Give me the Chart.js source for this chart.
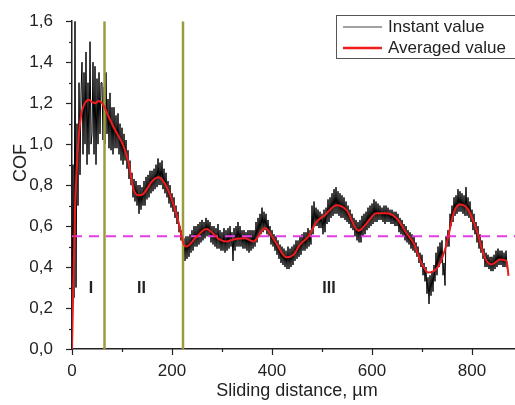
<!DOCTYPE html>
<html>
<head>
<meta charset="utf-8">
<title>COF vs sliding distance</title>
<script src="https://cdn.jsdelivr.net/npm/chart.js@4.4.1/dist/chart.umd.min.js"></script>
<style>
    html, body { margin: 0; padding: 0; background: #fff; }
    #wrap { width: 515px; height: 405px; }
</style>
</head>
<body>
<div id="wrap"><canvas id="cof-chart" width="515" height="405"></canvas></div>
<script>
// --- Data ---
const xTicks = [0, 200, 400, 600, 800];
const yTicks = [0, 0.2, 0.4, 0.6, 0.8, 1.0, 1.2, 1.4, 1.6];

// instant value, sampled every 2 um from 0 (one row = 20 um)
const instantStep = 2;
const instantValues = [
    0.05, 0.90, 0.25, 1.60, 0.30, 1.10, 0.70, 1.30, 0.85, 1.25,
    1.40, 0.95, 1.35, 1.00, 1.45, 0.90, 1.30, 0.95, 1.50, 1.00,
    1.05, 1.40, 0.95, 1.38, 0.90, 1.32, 1.00, 1.35, 1.05, 1.30,
    1.30, 1.02, 1.28, 1.00, 1.35, 1.05, 1.22, 0.98, 1.25, 0.97,
    1.18, 0.95, 1.18, 0.98, 1.14, 0.98, 1.15, 0.95, 1.10, 0.92,
    1.08, 0.90, 1.05, 0.92, 1.02, 0.88, 0.97, 0.83, 0.92, 0.80,
    0.86, 0.74, 0.83, 0.72, 0.82, 0.70, 0.80, 0.66, 0.80, 0.68,
    0.79, 0.70, 0.82, 0.70, 0.84, 0.73, 0.85, 0.74, 0.87, 0.76,
    0.87, 0.77, 0.88, 0.78, 0.90, 0.79, 0.93, 0.80, 0.91, 0.80,
    0.92, 0.78, 0.88, 0.76, 0.86, 0.74, 0.82, 0.71, 0.80, 0.69,
    0.76, 0.67, 0.74, 0.64, 0.70, 0.61, 0.67, 0.57, 0.60, 0.53,
    0.58, 0.47, 0.54, 0.43, 0.55, 0.44, 0.55, 0.45, 0.56, 0.47,
    0.58, 0.48, 0.60, 0.50, 0.60, 0.50, 0.61, 0.51, 0.62, 0.52,
    0.63, 0.53, 0.62, 0.54, 0.64, 0.55, 0.63, 0.55, 0.62, 0.52,
    0.60, 0.51, 0.60, 0.50, 0.59, 0.49, 0.61, 0.49, 0.58, 0.48,
    0.57, 0.48, 0.59, 0.47, 0.58, 0.48, 0.59, 0.49, 0.60, 0.50,
    0.57, 0.43, 0.59, 0.48, 0.60, 0.50, 0.62, 0.50, 0.60, 0.50,
    0.58, 0.49, 0.58, 0.49, 0.57, 0.48, 0.58, 0.47, 0.58, 0.48,
    0.58, 0.49, 0.58, 0.50, 0.62, 0.52, 0.64, 0.55, 0.66, 0.56,
    0.69, 0.57, 0.67, 0.58, 0.66, 0.56, 0.63, 0.55, 0.60, 0.51,
    0.58, 0.50, 0.56, 0.48, 0.55, 0.46, 0.53, 0.44, 0.51, 0.42,
    0.50, 0.41, 0.49, 0.40, 0.48, 0.39, 0.50, 0.39, 0.49, 0.40,
    0.50, 0.41, 0.51, 0.43, 0.53, 0.44, 0.53, 0.45, 0.55, 0.46,
    0.56, 0.48, 0.57, 0.48, 0.57, 0.49, 0.59, 0.50, 0.58, 0.51,
    0.70, 0.56, 0.72, 0.60, 0.69, 0.60, 0.68, 0.59, 0.67, 0.59,
    0.66, 0.56, 0.68, 0.57, 0.69, 0.61, 0.73, 0.62, 0.74, 0.64,
    0.76, 0.65, 0.78, 0.66, 0.79, 0.66, 0.77, 0.65, 0.76, 0.64,
    0.75, 0.64, 0.74, 0.63, 0.72, 0.62, 0.70, 0.61, 0.68, 0.59,
    0.66, 0.58, 0.64, 0.55, 0.63, 0.53, 0.62, 0.52, 0.63, 0.52,
    0.65, 0.55, 0.66, 0.56, 0.67, 0.58, 0.69, 0.59, 0.70, 0.60,
    0.71, 0.61, 0.73, 0.62, 0.72, 0.62, 0.71, 0.63, 0.70, 0.63,
    0.69, 0.62, 0.70, 0.61, 0.70, 0.62, 0.69, 0.62, 0.68, 0.61,
    0.68, 0.61, 0.67, 0.60, 0.67, 0.60, 0.66, 0.57, 0.64, 0.56,
    0.63, 0.55, 0.61, 0.53, 0.60, 0.52, 0.58, 0.51, 0.57, 0.49,
    0.56, 0.48, 0.55, 0.47, 0.52, 0.45, 0.50, 0.42, 0.47, 0.40,
    0.46, 0.36, 0.42, 0.33, 0.40, 0.27, 0.35, 0.22, 0.36, 0.26,
    0.38, 0.28, 0.41, 0.33, 0.47, 0.36, 0.50, 0.40, 0.52, 0.42,
    0.53, 0.36, 0.42, 0.31, 0.55, 0.50, 0.58, 0.50, 0.66, 0.60,
    0.70, 0.62, 0.74, 0.65, 0.75, 0.66, 0.78, 0.67, 0.77, 0.67,
    0.76, 0.66, 0.75, 0.65, 0.79, 0.65, 0.74, 0.64, 0.72, 0.62,
    0.68, 0.58, 0.66, 0.56, 0.62, 0.52, 0.60, 0.49, 0.56, 0.47,
    0.53, 0.44, 0.49, 0.40, 0.47, 0.40, 0.46, 0.39, 0.45, 0.38,
    0.45, 0.38, 0.46, 0.39, 0.48, 0.40, 0.49, 0.41, 0.48, 0.41,
    0.48, 0.40, 0.47, 0.40, 0.48, 0.40, 0.38
];

// averaged value
const averagedDistance = [
    0, 3, 6, 10, 14, 19, 26, 33, 40, 46, 53, 63, 73, 86, 103, 113, 123, 133, 143, 159,
    173, 186, 199, 213, 223, 229, 246, 269, 293, 309, 329, 346, 363, 386, 406, 429, 443, 456, 473, 489,
    506, 529, 549, 573, 589, 609, 629, 649, 669, 683, 699, 713, 733, 749, 763, 776, 793, 809, 826, 839,
    856, 869, 873
];
const averagedValues = [
    0.0, 0.35, 0.67, 0.9, 1.05, 1.15, 1.20, 1.216, 1.205, 1.20, 1.21, 1.19, 1.135, 1.07, 0.99, 0.91, 0.78, 0.75, 0.758, 0.815,
    0.838, 0.806, 0.734, 0.62, 0.515, 0.50, 0.54, 0.586, 0.538, 0.525, 0.538, 0.54, 0.525, 0.59, 0.525, 0.448, 0.46, 0.51, 0.55, 0.62,
    0.654, 0.702, 0.678, 0.577, 0.613, 0.662, 0.662, 0.638, 0.565, 0.517, 0.42, 0.373, 0.405, 0.51, 0.662, 0.705, 0.678, 0.58, 0.445, 0.413,
    0.437, 0.43, 0.357
];

// stage boundaries, reference level and stage names
const stageBoundaries = [65, 222];
const referenceCof = 0.55;
const stageNames = ['I', 'II', 'III'];
const stageLabelX = [38, 139, 514];
const stageLabelY = 0.295;

const xMax = 886;
const yMax = 1.6;

const FONT = '"Liberation Sans", Arial, sans-serif';

// --- Build datasets ---
const instantPoints = instantValues.map((v, i) => ({ x: i * instantStep, y: v }));
const averagedPoints = averagedDistance.map((d, i) => ({ x: d, y: averagedValues[i] }));

const datasets = [
    {
        label: 'Instant value',
        data: instantPoints,
        borderColor: '#000',
        borderWidth: 1,
        pointRadius: 0,
        tension: 0,
        order: 4,
    },
    {
        label: 'reference',
        data: [{ x: 0, y: referenceCof }, { x: xMax, y: referenceCof }],
        borderColor: '#e23ee2',
        borderWidth: 2,
        borderDash: [10, 7],
        pointRadius: 0,
        order: 3,
    },
    ...stageBoundaries.map(b => ({
        label: 'boundary',
        data: [{ x: b, y: 0 }, { x: b, y: yMax }],
        borderColor: '#9d9b3e',
        borderWidth: 2.5,
        pointRadius: 0,
        order: 2,
    })),
    {
        label: 'Averaged value',
        data: averagedPoints,
        borderColor: '#ee1c1c',
        borderWidth: 2,
        pointRadius: 0,
        cubicInterpolationMode: 'monotone',
        order: 1,
    },
];

// --- Extras: minor ticks, titles, stage labels, legend ---
const extrasPlugin = {
    id: 'extras',
    afterDraw(chart) {
        const { ctx, scales: { x, y } } = chart;
        const axisY = y.getPixelForValue(0);
        const axisX = x.getPixelForValue(0);
        ctx.save();
        ctx.strokeStyle = '#222';
        ctx.lineWidth = 1.2;

        // x ticks (major every 200, minor every 100)
        for (let v = 0; v <= 800; v += 100) {
            const px = Math.round(x.getPixelForValue(v)) + 0.5;
            const len = v % 200 === 0 ? 6 : 3;
            ctx.beginPath();
            ctx.moveTo(px, axisY);
            ctx.lineTo(px, axisY + len);
            ctx.stroke();
        }
        // y ticks (major every 0.2, minor every 0.1)
        for (let k = 0; k <= 16; k++) {
            const py = Math.round(y.getPixelForValue(k / 10)) + 0.5;
            const len = k % 2 === 0 ? 6 : 3;
            ctx.beginPath();
            ctx.moveTo(axisX, py);
            ctx.lineTo(axisX - len, py);
            ctx.stroke();
        }

        // axis titles
        ctx.fillStyle = '#222';
        ctx.font = '18px ' + FONT;
        ctx.textAlign = 'center';
        ctx.textBaseline = 'middle';
        ctx.fillText('Sliding distance, \u00b5m', 297, 391);
        ctx.save();
        ctx.translate(21, 163);
        ctx.rotate(-Math.PI / 2);
        ctx.fillText('COF', 0, 0);
        ctx.restore();

        // stage labels
        ctx.font = 'bold 16px ' + FONT;
        stageNames.forEach((name, i) => {
            ctx.fillText(name, x.getPixelForValue(stageLabelX[i]), y.getPixelForValue(stageLabelY));
        });

        // legend
        ctx.strokeStyle = '#555';
        ctx.lineWidth = 1;
        ctx.strokeRect(336.5, 15.5, 200, 43);
        ctx.font = '17px ' + FONT;
        ctx.textAlign = 'left';
        ctx.lineWidth = 1;
        ctx.strokeStyle = '#444';
        ctx.beginPath();
        ctx.moveTo(343, 27);
        ctx.lineTo(382, 27);
        ctx.stroke();
        ctx.fillText('Instant value', 388, 27);
        ctx.lineWidth = 2.5;
        ctx.strokeStyle = '#ee1c1c';
        ctx.beginPath();
        ctx.moveTo(343, 48);
        ctx.lineTo(382, 48);
        ctx.stroke();
        ctx.fillText('Averaged value', 388, 48);
        ctx.restore();
    }
};

const cofChart = new Chart(document.getElementById('cof-chart'), {
    type: 'line',
    data: { datasets: datasets },
    options: {
        responsive: false,
        animation: false,
        layout: { padding: { top: 17, right: 0, left: 0, bottom: 0 } },
        plugins: {
            legend: { display: false },
            tooltip: { enabled: false },
        },
        scales: {
            x: {
                type: 'linear',
                min: 0,
                max: xMax,
                grid: { display: false },
                border: { display: true, color: '#222', width: 1.5 },
                afterBuildTicks: scale => { scale.ticks = xTicks.map(v => ({ value: v })); },
                afterFit: scale => { scale.height = 56; },
                ticks: {
                    padding: 4,
                    color: '#222',
                    font: { family: FONT, size: 17 },
                    maxRotation: 0,
                    callback: v => String(v),
                },
            },
            y: {
                type: 'linear',
                min: 0,
                max: yMax,
                grid: { display: false },
                border: { display: true, color: '#222', width: 1.5 },
                afterBuildTicks: scale => { scale.ticks = yTicks.map(v => ({ value: v })); },
                afterFit: scale => { scale.width = 72; },
                ticks: {
                    padding: 11,
                    color: '#222',
                    font: { family: FONT, size: 17 },
                    callback: v => v.toFixed(1).replace('.', ','),
                },
            },
        },
    },
    plugins: [extrasPlugin],
});
</script>
</body>
</html>
